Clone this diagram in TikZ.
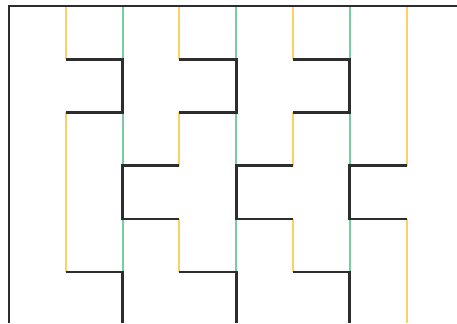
\documentclass[tikz,border=0pt]{standalone}
\definecolor{wallgray}{RGB}{45,45,45}
\definecolor{seamyellow}{RGB}{252,208,100}
\definecolor{seamgreen}{RGB}{120,205,160}
\tikzset{
  wall/.style={wallgray,line width=0.75pt},
  seamA/.style={seamyellow,line width=0.6pt},
  seamB/.style={seamgreen,line width=0.6pt}
}
\begin{document}
\begin{tikzpicture}[x=0.568cm,y=0.532cm]
    \useasboundingbox (-0.158,0.113) rectangle (7.887,-5.959);
    \draw[seamA] (1,0) -- (1,-1);
    \draw[seamA] (1,-2) -- (1,-5);
    \foreach \c/\s in {2/seamB,3/seamA,4/seamB,5/seamA,6/seamB} {
        \draw[\s] (\c,0) -- (\c,-1);
        \draw[\s] (\c,-2) -- (\c,-3);
        \draw[\s] (\c,-4) -- (\c,-5);
    }
    \draw[seamA] (7,0) -- (7,-3);
    \draw[seamA] (7,-4) -- (7,-5.959);
    \draw[wall] (0,-5.959) -- (0,0) -- (7.887,0);
    \foreach \c in {1,3,5} {
        \draw[wall] (\c,-1) -- (\c+1,-1) -- (\c+1,-2) -- (\c,-2);
        \draw[wall] (\c+2,-3) -- (\c+1,-3) -- (\c+1,-4) -- (\c+2,-4);
        \draw[wall] (\c,-5) -- (\c+1,-5) -- (\c+1,-5.959);
    }
\end{tikzpicture}
\end{document}
